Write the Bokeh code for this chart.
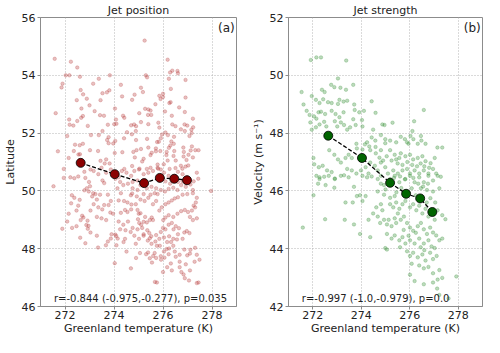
from bokeh.plotting import figure
from bokeh.layouts import row
from bokeh.models import Label, Range1d
from bokeh.embed import file_html
from bokeh.resources import INLINE

# ---------------- data ----------------
temp_ticks = [272, 274, 276, 278]
lat_ticks = [46, 48, 50, 52, 54, 56]
vel_ticks = [42, 44, 46, 48, 50, 52]

# binned means
mean_temp_a = [272.64, 274.03, 275.23, 275.87, 276.46, 276.98]
mean_lat = [50.97, 50.58, 50.27, 50.45, 50.42, 50.37]
mean_temp_b = [272.64, 274.03, 275.19, 275.85, 276.43, 276.93]
mean_vel = [47.91, 47.14, 46.28, 45.90, 45.74, 45.27]

ann_a = "r=-0.844 (-0.975,-0.277), p=0.035"
ann_b = "r=-0.997 (-1.0,-0.979), p=0.0"

# individual years: (Greenland temperature, jet latitude)
jet_pos_points = [
    (275.25, 55.2), (271.58, 54.57), (272.24, 54.47), (272.5, 54.27), (276.19, 54.54),
    (272.03, 54.0), (272.18, 54.0), (272.61, 53.95), (273.83, 54.0), (275.3, 54.0),
    (275.35, 53.93), (276.29, 54.1), (276.38, 54.16), (276.59, 54.15), (276.61, 54.07),
    (276.24, 53.88), (276.92, 53.84), (271.9, 53.71), (271.86, 53.58), (273.38, 53.88),
    (273.15, 53.71), (274.28, 53.67), (272.64, 53.49), (272.74, 53.34), (272.48, 53.14),
    (272.67, 52.85), (272.89, 53.19), (273.81, 53.48), (273.71, 53.41), (273.53, 53.38),
    (273.45, 53.14), (273.0, 52.96), (274.33, 53.27), (275.1, 53.57), (275.18, 53.42),
    (274.84, 53.33), (274.74, 53.15), (276.0, 53.25), (275.9, 53.18), (275.85, 53.29),
    (276.0, 53.36), (276.31, 53.07), (276.26, 53.04), (276.32, 53.53), (276.92, 53.23),
    (275.69, 53.0), (275.27, 52.84), (275.4, 52.82), (275.49, 52.78), (275.39, 52.63),
    (275.52, 52.63), (275.03, 52.69), (274.04, 52.85), (276.66, 52.89), (276.89, 52.73),
    (276.08, 52.75), (276.36, 52.6), (271.62, 52.69), (272.17, 52.47), (272.19, 52.29),
    (272.34, 52.26), (272.5, 52.42), (272.66, 52.53), (272.73, 52.59), (273.21, 52.76),
    (273.43, 52.62), (272.93, 52.25), (273.59, 52.6), (273.75, 52.29), (273.53, 52.07),
    (274.01, 52.31), (274.08, 52.47), (274.1, 52.32), (274.37, 52.6), (274.42, 52.53),
    (274.7, 52.27), (274.82, 52.3), (274.9, 52.24), (275.1, 52.38), (275.4, 52.31),
    (274.53, 52.03), (274.73, 51.96), (274.89, 52.07), (275.81, 52.36), (275.85, 52.19),
    (276.38, 52.3), (276.51, 52.24), (276.88, 52.3), (276.99, 52.26), (277.22, 52.5),
    (277.23, 52.2), (277.16, 52.12), (276.73, 52.13), (276.89, 52.07), (276.1, 52.02),
    (276.2, 51.93), (275.96, 51.95), (275.91, 51.82), (276.45, 51.87), (276.34, 51.71),
    (276.44, 51.63), (277.08, 51.9), (277.17, 52.0), (272.09, 51.9), (273.06, 51.93),
    (273.38, 51.93), (273.78, 51.86), (273.72, 51.76), (274.05, 51.73), (274.41, 51.82),
    (275.35, 51.8), (274.9, 51.76), (275.76, 51.69), (275.83, 51.7), (276.3, 51.57),
    (276.24, 51.49), (276.83, 51.5), (277.18, 51.54), (277.32, 51.41), (277.45, 51.41),
    (271.71, 51.37), (272.41, 51.6), (272.6, 51.58), (272.73, 51.63), (272.36, 51.38),
    (272.55, 51.26), (272.61, 51.27), (272.15, 51.14), (273.02, 51.41), (273.35, 51.38),
    (273.45, 51.04), (273.68, 51.09), (273.78, 51.65), (273.97, 51.64), (274.34, 51.34),
    (274.03, 51.31), (274.79, 51.35), (274.92, 51.41), (275.1, 51.45), (274.85, 51.16),
    (275.15, 51.02), (275.21, 51.11), (275.4, 51.5), (275.49, 51.24), (275.54, 51.32),
    (275.71, 51.47), (275.71, 51.37), (275.89, 51.38), (276.15, 51.35), (276.14, 51.24),
    (276.46, 51.38), (276.43, 51.21), (276.85, 51.35), (276.84, 51.19), (277.04, 51.25),
    (277.22, 51.16), (277.13, 51.4), (276.96, 51.07), (277.03, 50.88), (276.73, 50.87),
    (276.79, 50.77), (276.92, 50.84), (276.51, 50.79), (276.52, 51.05), (276.19, 51.05),
    (276.03, 50.92), (276.27, 50.76), (275.78, 50.91), (275.8, 50.77), (275.49, 50.8),
    (275.34, 50.76), (275.04, 50.77), (274.74, 50.86), (274.42, 50.76), (273.82, 50.95),
    (273.62, 50.95), (272.79, 50.66), (271.95, 50.76),
    (271.53, 50.16), (271.95, 50.45), (272.22, 50.47), (272.38, 50.44), (272.54, 50.5),
    (272.83, 50.45), (272.28, 49.85), (272.25, 49.57), (272.38, 49.76), (272.6, 49.69),
    (272.98, 50.31), (272.89, 50.09), (273.02, 50.16), (273.11, 49.81), (273.24, 49.89),
    (272.79, 50.02), (272.97, 49.98), (273.15, 49.92), (272.7, 49.14), (272.75, 49.08),
    (272.64, 48.99), (272.92, 48.97), (272.87, 48.82), (272.96, 48.79), (272.93, 48.69),
    (271.89, 48.69), (272.29, 48.72), (272.62, 48.38), (272.83, 48.19), (273.35, 48.04),
    (273.6, 49.51), (273.78, 49.51), (273.52, 49.36), (273.85, 49.25), (273.96, 49.21),
    (273.75, 48.25), (273.67, 48.12), (274.05, 48.49), (274.15, 48.35), (274.09, 48.44),
    (274.1, 48.12), (273.9, 48.5), (273.87, 48.35), (274.03, 47.5), (274.47, 48.64),
    (274.45, 48.34), (274.39, 48.23), (274.69, 47.32), (274.28, 49.24), (274.45, 49.34),
    (274.7, 49.36), (274.55, 49.27), (274.19, 49.67), (274.41, 49.65), (274.55, 49.6),
    (274.71, 49.53), (274.69, 49.85), (274.74, 49.91), (274.14, 50.09), (274.28, 49.92),
    (273.53, 50.36), (273.6, 50.27), (274.89, 49.54), (274.96, 49.34), (275.01, 49.21),
    (275.08, 49.23), (274.98, 49.02), (275.03, 48.89), (275.11, 48.83), (275.21, 48.93),
    (275.27, 49.1), (275.34, 48.91), (275.46, 48.99), (275.54, 49.08), (275.59, 48.99),
    (275.36, 48.64), (275.44, 48.54), (275.21, 48.5), (275.15, 48.72), (275.46, 48.36),
    (275.52, 48.43), (275.69, 48.25), (275.75, 48.1), (275.87, 48.1), (275.31, 47.81),
    (275.39, 47.87), (275.46, 47.67), (275.6, 47.75), (275.55, 47.52), (275.67, 46.85),
    (275.75, 46.83), (275.92, 47.62), (276.06, 47.69), (276.15, 47.99), (276.25, 48.01),
    (276.32, 47.49), (276.52, 47.72), (276.68, 47.55), (276.75, 47.19), (276.84, 47.11),
    (276.89, 46.98), (277.1, 47.25), (277.06, 46.9), (277.38, 46.81), (276.99, 47.77),
    (277.1, 47.83), (277.29, 47.55), (276.87, 47.97), (277.12, 47.96), (277.31, 48.03),
    (277.38, 47.79), (276.33, 48.23), (276.42, 48.34), (276.57, 48.32), (276.61, 48.5),
    (276.8, 48.34), (276.87, 48.56), (276.97, 48.61), (277.08, 48.54), (275.91, 48.58),
    (276.0, 48.72), (276.1, 48.67), (276.23, 48.83), (276.36, 48.89), (276.43, 48.67),
    (276.52, 48.78), (276.65, 48.71),
    (276.01, 48.99), (276.1, 49.08), (276.23, 49.16), (276.42, 49.1), (276.59, 49.21),
    (276.74, 49.3), (276.89, 49.34), (277.02, 49.27), (277.18, 49.32), (277.31, 49.43),
    (275.85, 49.32), (275.95, 49.43), (276.1, 49.54), (276.23, 49.6), (276.36, 49.67),
    (276.48, 49.74), (276.61, 49.78), (276.8, 49.87), (276.99, 49.89), (277.22, 49.92),
    (277.38, 49.76), (277.34, 49.6), (277.25, 49.49), (277.1, 49.1), (277.22, 48.99),
    (277.38, 49.05), (275.59, 49.54), (275.72, 49.65), (275.4, 49.76), (275.49, 49.87),
    (275.66, 49.92), (275.78, 49.89), (275.25, 49.65), (275.08, 49.7), (274.93, 49.81),
    (275.21, 49.89), (274.76, 50.09), (274.96, 50.03), (275.08, 50.2), (275.34, 50.09),
    (275.53, 50.14), (275.72, 50.09), (275.91, 50.03), (276.08, 49.98), (276.23, 50.07),
    (276.42, 50.11), (276.59, 50.03), (276.74, 50.2), (276.93, 50.14), (277.12, 50.22),
    (277.25, 50.33), (276.99, 50.47), (276.8, 50.58), (276.61, 50.66), (276.48, 50.52),
    (276.23, 50.52), (276.04, 50.63), (275.91, 50.74), (275.78, 50.8), (275.59, 50.69),
    (275.4, 50.63), (275.21, 50.58), (275.02, 50.74), (274.83, 50.69), (274.7, 50.52),
    (274.51, 50.63), (274.32, 50.69), (274.19, 50.47), (274.06, 50.42), (273.87, 50.74),
    (273.68, 50.63), (273.49, 50.8), (273.36, 50.58), (273.17, 50.69), (273.04, 50.74),
    (274.96, 50.36), (274.76, 50.31), (274.57, 50.25), (274.38, 50.2), (274.25, 50.31),
    (276.1, 50.33), (276.29, 50.25), (276.61, 50.31), (276.8, 50.33), (277.22, 50.03),
    (277.38, 50.63), (277.44, 50.42),
    (275.21, 48.45), (275.38, 48.28), (275.53, 48.17), (275.02, 48.34), (274.89, 48.17),
    (274.83, 48.45), (274.68, 48.58), (274.76, 48.72), (274.96, 48.67), (275.72, 48.47),
    (275.85, 48.34), (276.04, 48.39), (276.17, 48.23), (276.25, 48.43), (276.42, 48.1),
    (276.48, 47.9), (276.68, 47.79), (276.23, 47.81), (276.04, 47.9), (275.91, 47.74),
    (275.72, 47.68), (275.66, 47.85), (275.06, 47.85), (274.9, 47.68), (274.51, 47.9),
    (276.68, 47.36), (276.36, 47.25), (276.17, 47.36), (276.0, 47.19), (276.93, 47.46),
    (273.3, 49.7), (273.43, 49.87), (273.75, 49.87), (273.87, 49.65), (273.36, 49.43),
    (273.17, 49.54), (273.04, 49.32), (273.3, 49.1), (273.49, 49.05), (273.68, 48.99),
    (272.54, 49.49), (272.47, 49.32), (272.15, 49.21), (272.09, 48.94), (272.47, 48.78),
    (273.04, 48.56), (273.3, 48.45), (274.19, 48.94), (274.38, 48.83), (274.57, 48.94),
    (274.25, 48.67), (277.96, 50.0), (277.45, 46.83), (277.49, 47.62),
]

# individual years: (Greenland temperature, jet velocity)
jet_str_points = [
    (271.92, 50.53), (272.15, 50.62), (272.34, 50.62), (273.38, 50.51), (273.04, 49.89),
    (272.76, 49.67), (271.54, 49.42), (272.38, 49.5), (272.49, 49.42), (272.89, 49.59),
    (273.14, 49.57), (273.37, 49.5), (273.67, 49.67), (271.96, 49.28), (271.62, 48.99),
    (272.13, 49.15), (272.28, 49.04), (272.43, 49.17), (272.63, 49.07), (272.78, 49.04),
    (273.04, 49.01), (273.1, 49.15), (273.27, 49.09), (273.42, 49.12), (273.71, 48.99),
    (273.73, 48.8), (273.92, 48.72), (274.11, 48.77), (274.43, 49.1), (274.59, 48.7),
    (276.58, 48.8), (271.75, 48.77), (271.87, 48.63), (272.05, 48.58), (272.24, 48.72),
    (272.34, 48.74), (272.51, 48.66), (272.78, 48.77), (272.94, 48.66), (273.1, 48.55),
    (273.27, 48.72), (272.15, 48.5), (272.28, 48.3), (272.47, 48.39), (272.56, 48.23),
    (272.91, 48.41), (273.01, 48.23), (271.9, 48.37), (271.96, 48.12), (272.13, 48.2),
    (273.67, 48.48), (273.77, 48.28), (274.03, 48.45), (274.05, 48.23), (273.54, 48.2),
    (273.42, 48.12), (273.29, 48.28), (273.16, 48.37), (274.87, 48.3), (274.96, 48.28),
    (275.29, 48.36), (274.49, 48.12), (276.18, 48.41), (276.11, 48.07), (276.03, 47.9),
    (276.15, 47.79), (275.89, 47.68), (275.95, 47.63), (275.8, 47.79), (275.63, 47.87),
    (275.44, 47.68), (276.46, 47.9), (276.48, 47.74), (276.65, 47.63), (276.33, 47.63),
    (277.14, 47.5), (277.34, 47.5), (277.03, 47.14), (276.86, 46.96), (274.81, 47.93),
    (274.99, 47.79), (275.19, 47.74), (274.58, 47.74), (274.43, 47.85), (274.24, 47.68),
    (274.33, 47.54), (274.15, 47.61), (274.05, 47.43), (274.37, 47.41), (274.59, 47.52),
    (274.81, 47.41), (274.99, 47.65), (273.8, 47.63), (273.82, 47.47), (272.68, 47.41),
    (272.89, 47.25), (273.04, 47.09), (273.16, 46.98), (273.35, 47.14), (273.48, 47.25),
    (273.61, 47.14), (272.03, 47.14), (272.06, 46.92), (272.25, 46.82), (272.41, 46.87),
    (272.59, 46.71), (272.78, 46.65), (272.91, 46.43), (272.47, 46.49), (272.28, 46.41),
    (275.19, 47.41), (275.38, 47.25), (275.44, 47.09), (275.57, 47.14), (275.63, 47.3),
    (275.82, 47.2), (276.01, 47.25), (276.14, 47.09), (276.33, 47.14), (276.52, 47.2),
    (276.65, 47.03), (274.81, 46.98), (274.99, 46.82), (274.68, 46.71), (274.56, 46.87),
    (274.37, 46.98), (274.18, 46.82), (274.3, 46.6), (273.99, 46.71), (273.8, 46.6),
    (273.61, 46.71), (273.42, 46.76), (273.29, 46.54), (275.32, 46.71), (275.51, 46.6),
    (275.7, 46.71), (275.89, 46.76), (276.01, 46.6), (276.2, 46.71), (276.39, 46.6),
    (276.58, 46.71), (276.77, 46.6), (276.96, 46.76), (277.09, 46.6), (277.28, 46.49),
    (271.59, 44.73), (272.03, 45.85), (272.51, 45.02), (273.35, 45.6), (273.65, 45.6),
    (273.32, 45.0), (273.7, 44.84), (273.95, 44.51), (274.3, 45.0), (274.37, 44.4),
    (274.05, 45.65), (274.18, 45.82), (273.82, 45.82), (273.95, 45.85), (274.49, 45.22),
    (274.62, 45.43), (274.81, 45.54), (274.87, 45.33), (274.68, 45.11), (274.78, 44.89),
    (274.94, 45.0), (272.15, 46.52), (272.28, 46.47), (272.66, 46.52), (272.91, 46.41),
    (273.16, 46.52), (273.48, 46.47), (273.7, 46.14), (272.89, 46.11), (272.53, 46.2),
    (272.22, 46.25), (274.05, 46.52), (274.24, 46.47), (274.43, 46.5), (274.68, 46.41),
    (274.81, 46.25), (274.68, 45.98), (274.94, 45.87), (275.19, 45.76), (275.38, 45.82),
    (275.19, 45.54), (275.32, 45.43), (275.44, 45.6), (275.57, 45.38), (275.7, 45.54),
    (275.51, 45.22), (275.38, 45.05), (275.13, 45.0), (275.06, 44.84), (275.25, 44.78),
    (275.44, 44.89), (275.63, 45.0), (275.76, 45.11), (275.82, 45.65), (276.01, 45.43),
    (276.14, 45.54), (276.27, 45.33), (276.39, 45.49), (276.52, 45.22), (276.65, 45.38),
    (276.77, 45.11), (276.9, 45.27), (277.03, 45.0), (277.15, 45.33), (277.34, 45.16),
    (277.47, 45.02), (275.89, 44.89), (276.01, 44.73), (276.14, 44.62), (276.33, 44.78),
    (276.46, 44.89), (276.58, 44.67), (276.71, 44.51), (276.84, 44.73), (276.96, 44.56),
    (277.09, 44.46), (277.22, 44.29), (277.34, 44.35), (275.06, 44.51), (275.25, 44.35),
    (275.38, 44.46), (275.57, 44.29), (275.7, 44.4), (275.82, 44.18), (276.01, 44.29),
    (276.2, 44.18), (276.39, 44.35), (276.58, 44.18), (276.77, 44.29), (276.9, 44.08),
    (277.03, 44.02), (274.99, 44.02), (275.06, 43.97), (275.89, 43.91), (276.01, 43.75),
    (276.14, 43.86), (276.33, 43.7), (276.52, 43.8), (276.65, 43.59), (276.84, 43.86),
    (276.96, 43.64), (277.11, 43.75), (276.08, 43.48), (276.39, 43.42), (276.58, 43.32),
    (276.77, 43.37), (276.96, 43.15), (277.22, 43.26), (277.34, 42.99), (277.15, 42.93),
    (276.01, 43.1), (276.2, 42.88), (276.58, 42.77), (276.96, 42.83), (277.22, 42.4),
    (277.6, 42.28), (277.92, 43.04), (277.13, 42.62), (275.82, 46.41), (276.01, 46.52),
    (276.2, 46.3), (276.39, 46.47), (276.58, 46.3), (276.77, 46.52), (276.96, 46.36),
    (277.15, 46.52), (276.46, 46.09), (276.71, 46.03), (276.96, 45.98), (277.22, 46.09),
    (276.08, 46.09), (274.81, 46.52), (275.19, 46.41), (275.38, 46.52), (275.57, 46.3),
    (274.94, 46.2),
    (274.6, 47.3), (274.75, 47.15), (274.9, 47.05), (275.05, 47.2), (275.25, 47.05),
    (275.5, 46.95), (275.7, 46.9), (275.9, 47.0), (276.1, 46.9), (276.3, 46.85),
    (276.45, 46.95), (276.6, 46.85), (276.8, 46.8), (275.1, 46.6), (275.35, 46.45),
    (275.6, 46.5), (275.8, 46.4), (276.15, 46.45), (276.35, 46.25), (276.55, 46.15),
    (276.75, 46.25), (275.0, 46.05), (275.45, 45.95), (275.65, 46.1), (275.95, 45.95),
    (276.25, 45.85), (276.5, 45.7), (276.7, 45.6), (276.85, 45.75), (277.05, 45.6),
    (275.75, 44.65), (275.95, 44.45), (276.25, 44.55), (276.45, 44.05), (276.6, 43.95),
    (275.6, 44.05),
]

lat_temp = [p[0] for p in jet_pos_points]
lat_val = [p[1] for p in jet_pos_points]
vel_temp = [p[0] for p in jet_str_points]
vel_val = [p[1] for p in jet_str_points]

FONT = "DejaVu Sans"
TXT = "#222222"
SPINE = "#8c8c8c"


def make_panel(title, tag, xs, ys, color, mx, my, mcolor, ylabel, yticks, ann,
               width, bleft, bright):
    p = figure(width=width, height=337, output_backend="svg", toolbar_location=None,
               x_range=Range1d(271, 279), y_range=Range1d(yticks[0], yticks[-1]),
               min_border_left=bleft, min_border_right=bright,
               min_border_top=4, min_border_bottom=0)
    p.title.text = title
    p.title.align = "center"
    p.title.text_font = FONT
    p.title.text_font_size = "11px"
    p.title.text_font_style = "normal"
    p.title.text_color = TXT
    p.title.standoff = 2
    p.xaxis.ticker = temp_ticks
    p.yaxis.ticker = yticks
    p.xaxis.axis_label = "Greenland temperature (K)"
    p.yaxis.axis_label = ylabel
    for ax in (p.xaxis[0], p.yaxis[0]):
        ax.axis_label_text_font = FONT
        ax.axis_label_text_font_size = "11px"
        ax.axis_label_text_font_style = "normal"
        ax.axis_label_text_color = TXT
        ax.axis_label_standoff = 2
        ax.major_label_text_font = FONT
        ax.major_label_text_font_size = "11px"
        ax.major_label_text_color = TXT
        ax.major_label_standoff = 2
        ax.axis_line_color = SPINE
        ax.major_tick_line_color = SPINE
        ax.major_tick_out = 3
        ax.major_tick_in = 0
        ax.minor_tick_line_color = None
    p.xaxis.axis_label_standoff = 0
    p.xaxis.major_label_standoff = 1
    p.outline_line_color = SPINE
    p.outline_line_alpha = 1
    p.grid.grid_line_color = "#b5b5b5"
    p.grid.grid_line_dash = "1 2"
    p.grid.grid_line_width = 1

    p.scatter(xs, ys, size=3.5, fill_color=color, fill_alpha=0.32,
              line_color=color, line_alpha=0.25)
    p.line(mx, my, line_color="black", line_width=1.3, line_dash="4 2")
    p.scatter(mx, my, size=9, fill_color=mcolor, line_color="black", line_width=0.8)

    p.add_layout(Label(x=271.55, y=yticks[0] + 0.1, text=ann, text_font=FONT,
                       text_font_size="10px", text_color=TXT,
                       text_align="left", text_baseline="bottom"))
    p.add_layout(Label(x=278.93, y=yticks[-1] - 0.12, text=tag, text_font=FONT,
                       text_font_size="12px", text_color=TXT,
                       text_align="right", text_baseline="top"))
    return p


p1 = make_panel("Jet position", "(a)", lat_temp, lat_val, "#b83c3c",
                mean_temp_a, mean_lat, "#8b0000", "Latitude", lat_ticks, ann_a,
                248, 34, 12)
p2 = make_panel("Jet strength", "(b)", vel_temp, vel_val, "#2e8b2e",
                mean_temp_b, mean_vel, "#006400", "Velocity (m s\u207b\u00b9)", vel_ticks, ann_b,
                236, 34, 2)

layout = row(p1, p2)
open("out.html", "w").write(file_html(layout, INLINE))
